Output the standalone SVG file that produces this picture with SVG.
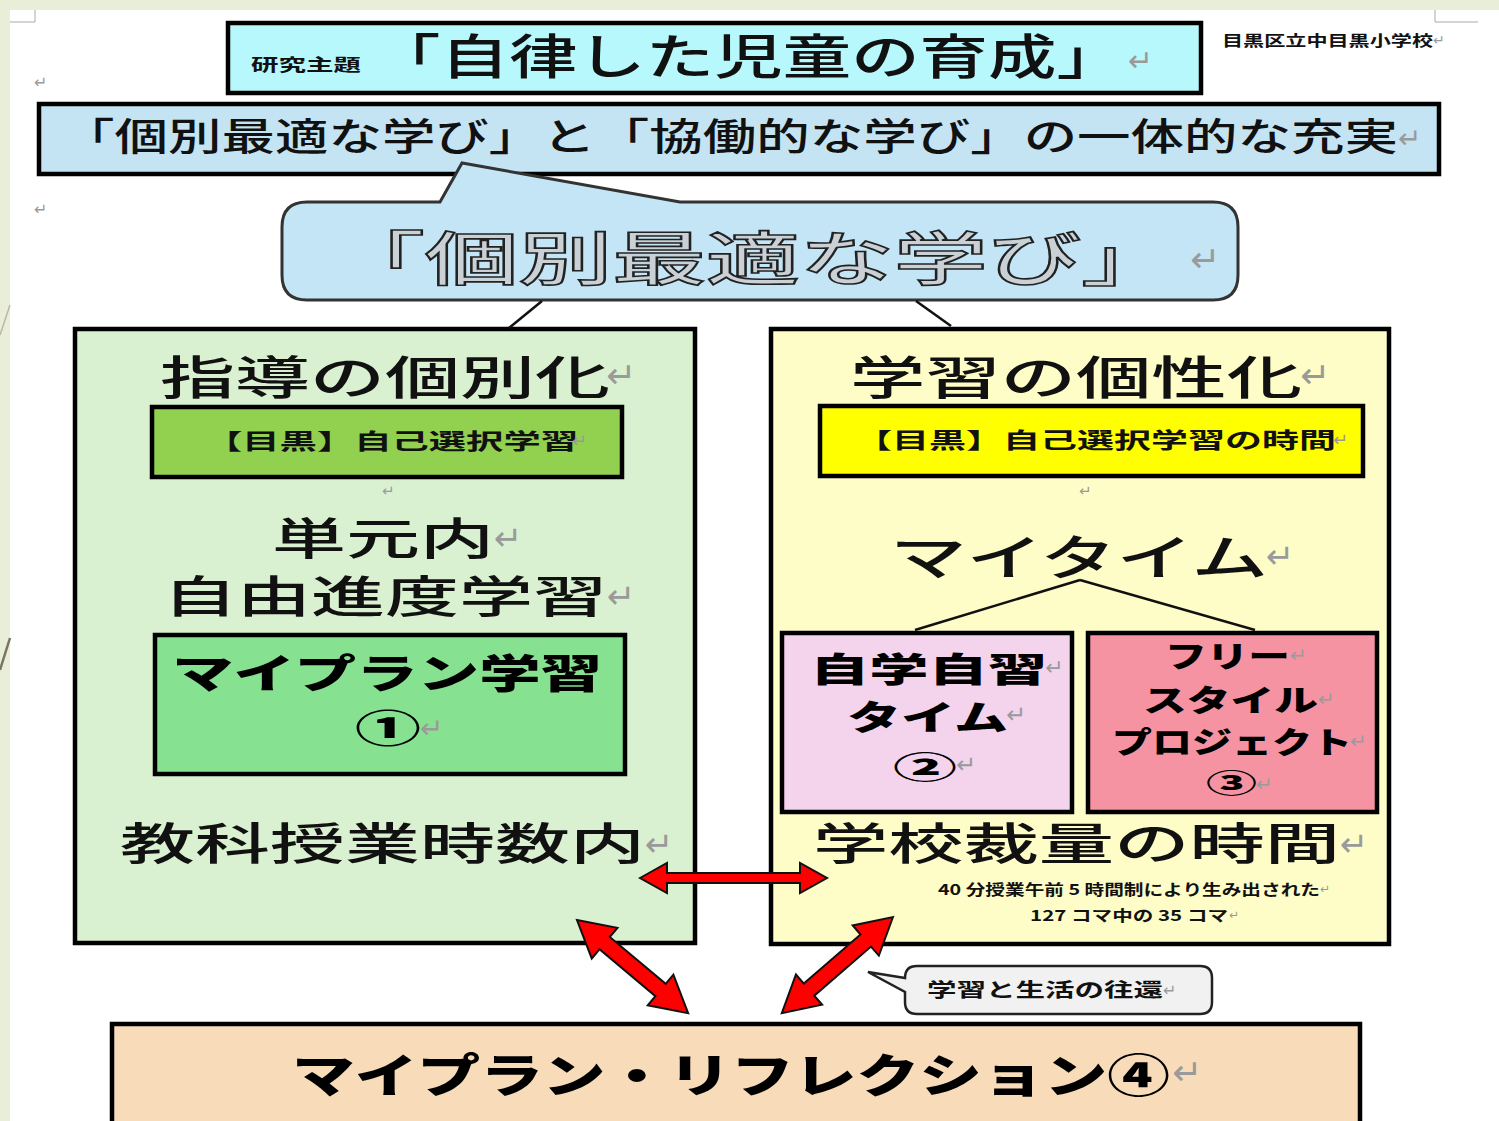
<svg xmlns="http://www.w3.org/2000/svg" width="1499" height="1121" viewBox="0 0 1499 1121">
<style>
.t{font-family:"Noto Sans CJK JP","Noto Sans CJK SC",sans-serif;fill:#111;font-weight:500}
.b{font-family:"Noto Sans CJK JP","Noto Sans CJK SC",sans-serif;fill:#111;font-weight:700}
.h{font-family:"Noto Sans CJK JP","Noto Sans CJK SC",sans-serif;fill:#000;font-weight:900}
.o{font-family:"Noto Sans CJK JP","Noto Sans CJK SC",sans-serif;fill:#c9d0d6;stroke:#222;stroke-width:1.6;font-weight:500}
.pm{font-family:"DejaVu Sans",sans-serif;fill:#9a9a9a}
.box{stroke:#000;stroke-width:4.5}
.arr{fill:#ff0000;stroke:#111;stroke-width:2;stroke-linejoin:miter}
.ln{stroke:#111;stroke-width:2.5;fill:none}
</style>
<rect x="0" y="0" width="1499" height="1121" fill="#ffffff"/>
<rect x="0" y="0" width="1499" height="10" fill="#e9eed8"/>
<rect x="0" y="0" width="10" height="1121" fill="#e9eed8"/>
<path d="M0,670 L10,638" stroke="#7a7560" stroke-width="2.5" fill="none"/>
<path d="M0,335 L10,305" stroke="#b9b8a6" stroke-width="1.5" fill="none"/>
<path d="M35,10 L35,22 L10,22" stroke="#aaa" stroke-width="1" fill="none"/>
<path d="M1435,10 L1435,22 L1478,22" stroke="#aaa" stroke-width="1" fill="none"/>
<text class="pm" x="34" y="88" font-size="16">↵</text>
<text class="pm" x="34" y="215" font-size="16">↵</text>

<g id="school">
<text class="b" x="1222" y="46" font-size="15" textLength="211" lengthAdjust="spacingAndGlyphs">目黒区立中目黒小学校</text>
<text class="pm" x="1433" y="45" font-size="14">↵</text>
</g>

<g id="theme">
<rect class="box" x="228" y="23" width="973" height="70" fill="#b6f8fc"/>
<text class="b" x="251" y="71" font-size="17" textLength="110" lengthAdjust="spacingAndGlyphs">研究主題</text>
<text class="t" x="372" y="74" font-size="48" textLength="753" lengthAdjust="spacingAndGlyphs">「自律した児童の育成」</text>
<text class="pm" x="1128" y="71" font-size="30">↵</text>
</g>

<g id="goal">
<rect class="box" x="39" y="104" width="1400" height="70" fill="#c5e4f3"/>
<text class="t" x="61" y="150" font-size="38" textLength="1337" lengthAdjust="spacingAndGlyphs">「個別最適な学び」と「協働的な学び」の一体的な充実</text>
<text class="pm" x="1398" y="148" font-size="28">↵</text>
</g>

<g id="kobetsu">
<path d="M307,202 L440,202 L462,163 L680,202 L1213,202 Q1238,202 1238,227 L1238,275 Q1238,300 1213,300 L307,300 Q282,300 282,275 L282,227 Q282,202 307,202 Z" fill="#c3e5f5" stroke="#333" stroke-width="3"/>
<text class="o" x="331" y="280" font-size="58" textLength="844" lengthAdjust="spacingAndGlyphs">「個別最適な学び」</text>
<text class="pm" x="1190" y="272" font-size="36">↵</text>
</g>

<g id="left-panel">
<rect class="box" x="75" y="329" width="620" height="614" fill="#d9f1d0"/>
<text class="t" x="160" y="394" font-size="46" textLength="450" lengthAdjust="spacingAndGlyphs">指導の個別化</text>
<text class="pm" x="606" y="388" font-size="36">↵</text>
</g>

<g id="left-select">
<rect class="box" x="152" y="407" width="470" height="70" fill="#92d050"/>
<text class="b" x="205" y="449" font-size="22" textLength="373" lengthAdjust="spacingAndGlyphs">【目黒】自己選択学習</text>
<text class="pm" x="572" y="447" font-size="18">↵</text>
</g>
<text class="pm" x="382" y="496" font-size="15">↵</text>

<g id="tangen">
<text class="t" x="272" y="555" font-size="44" textLength="222" lengthAdjust="spacingAndGlyphs">単元内</text>
<text class="pm" x="494" y="550" font-size="34">↵</text>
<text class="t" x="163" y="613" font-size="44" textLength="444" lengthAdjust="spacingAndGlyphs">自由進度学習</text>
<text class="pm" x="607" y="608" font-size="34">↵</text>
</g>

<g id="myplan">
<rect class="box" x="155" y="635" width="470" height="139" fill="#86e290"/>
<text class="h" x="172" y="688" font-size="40" textLength="430" lengthAdjust="spacingAndGlyphs">マイプラン学習</text>
<text class="h" x="355" y="742" font-size="38" textLength="66" lengthAdjust="spacingAndGlyphs">①</text>
<text class="pm" x="420" y="738" font-size="28">↵</text>
</g>

<g id="kyoka">
<text class="t" x="120" y="860" font-size="44" textLength="525" lengthAdjust="spacingAndGlyphs">教科授業時数内</text>
<text class="pm" x="645" y="856" font-size="34">↵</text>
</g>

<g id="right-panel">
<rect class="box" x="771" y="329" width="618" height="615" fill="#fefdc8"/>
<text class="t" x="850" y="394" font-size="46" textLength="452" lengthAdjust="spacingAndGlyphs">学習の個性化</text>
<text class="pm" x="1300" y="388" font-size="36">↵</text>
</g>

<g id="right-select">
<rect class="box" x="820" y="406" width="543" height="70" fill="#ffff00"/>
<text class="b" x="855" y="448" font-size="22" textLength="481" lengthAdjust="spacingAndGlyphs">【目黒】自己選択学習の時間</text>
<text class="pm" x="1333" y="446" font-size="18">↵</text>
</g>
<text class="pm" x="1079" y="496" font-size="15">↵</text>

<g id="mytime">
<text class="t" x="890" y="575" font-size="48" textLength="378" lengthAdjust="spacingAndGlyphs">マイタイム</text>
<text class="pm" x="1266" y="568" font-size="34">↵</text>
</g>

<g id="jigaku">
<rect class="box" x="782" y="633" width="290" height="179" fill="#f4d3ec"/>
<text class="h" x="810" y="682" font-size="34" textLength="237" lengthAdjust="spacingAndGlyphs">自学自習</text>
<text class="pm" x="1045" y="675" font-size="22">↵</text>
<text class="h" x="847" y="730" font-size="34" textLength="161" lengthAdjust="spacingAndGlyphs">タイム</text>
<text class="pm" x="1006" y="723" font-size="24">↵</text>
<text class="h" x="893" y="778" font-size="30" textLength="64" lengthAdjust="spacingAndGlyphs">②</text>
<text class="pm" x="956" y="773" font-size="24">↵</text>
</g>

<g id="freestyle">
<rect class="box" x="1088" y="633" width="289" height="179" fill="#f593a3"/>
<text class="h" x="1165" y="667" font-size="30" textLength="125" lengthAdjust="spacingAndGlyphs">フリー</text>
<text class="pm" x="1290" y="662" font-size="20">↵</text>
<text class="h" x="1143" y="711" font-size="30" textLength="175" lengthAdjust="spacingAndGlyphs">スタイル</text>
<text class="pm" x="1318" y="706" font-size="20">↵</text>
<text class="h" x="1112" y="753" font-size="30" textLength="240" lengthAdjust="spacingAndGlyphs">プロジェクト</text>
<text class="pm" x="1350" y="748" font-size="20">↵</text>
<text class="h" x="1206" y="793" font-size="26" textLength="51" lengthAdjust="spacingAndGlyphs">③</text>
<text class="pm" x="1256" y="791" font-size="20">↵</text>
</g>

<g id="gakko">
<text class="t" x="813" y="860" font-size="44" textLength="527" lengthAdjust="spacingAndGlyphs">学校裁量の時間</text>
<text class="pm" x="1340" y="856" font-size="34">↵</text>
<text class="b" x="938" y="895" font-size="15" textLength="382" lengthAdjust="spacingAndGlyphs">40 分授業午前 5 時間制により生み出された</text>
<text class="pm" x="1320" y="893" font-size="12">↵</text>
<text class="b" x="1030" y="921" font-size="15" textLength="198" lengthAdjust="spacingAndGlyphs">127 コマ中の 35 コマ</text>
<text class="pm" x="1229" y="919" font-size="12">↵</text>
</g>

<g id="oukan">
<path d="M917,966 L1200,966 Q1212,966 1212,978 L1212,1002 Q1212,1014 1200,1014 L917,1014 Q905,1014 905,1002 L905,992 L868,972 L905,978 Q905,966 917,966 Z" fill="#f1f1f1" stroke="#222" stroke-width="2.5"/>
<text class="b" x="927" y="997" font-size="19" textLength="236" lengthAdjust="spacingAndGlyphs">学習と生活の往還</text>
<text class="pm" x="1163" y="996" font-size="16">↵</text>
</g>

<g id="reflection">
<rect class="box" x="112" y="1024" width="1248" height="110" fill="#f8dcb9" stroke-width="5"/>
<text class="h" x="292" y="1092" font-size="46" textLength="878" lengthAdjust="spacingAndGlyphs">マイプラン・リフレクション④</text>
<text class="pm" x="1172" y="1085" font-size="36">↵</text>
</g>

<g id="connectors">
<path class="ln" d="M542,301 L509,328"/>
<path class="ln" d="M916,301 L951,326"/>
<path class="ln" d="M1080,580 L915,630"/>
<path class="ln" d="M1080,580 L1255,630"/>
<polygon class="arr" points="0,0 27,-15 27,-5 160,-5 160,-15 187,0 160,15 160,5 27,5 27,15" transform="translate(640,878)"/>
<polygon class="arr" points="0,0 36,-20 36,-8 109,-8 109,-20 145,0 109,20 109,8 36,8 36,20" transform="translate(577,920) rotate(39.96)"/>
<polygon class="arr" points="0,0 36,-20 36,-8 111,-8 111,-20 147,0 111,20 111,8 36,8 36,20" transform="translate(893,917) rotate(139.15)"/>
</g>
</svg>
